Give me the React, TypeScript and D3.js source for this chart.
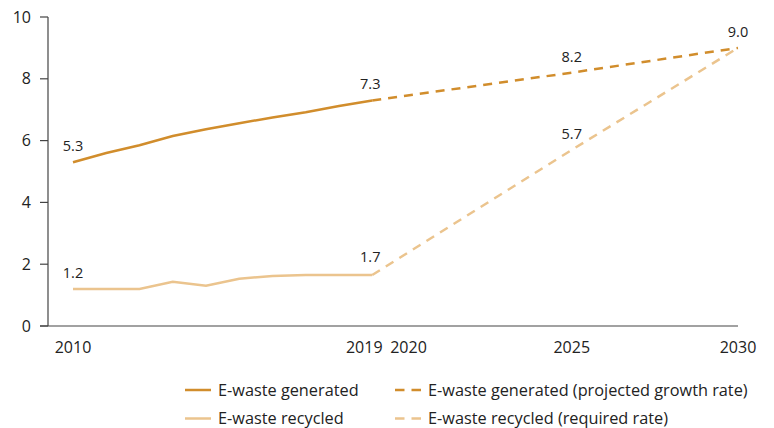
import React from "react";
import * as d3 from "d3";

const histYears = [2010, 2011, 2012, 2013, 2014, 2015, 2016, 2017, 2018, 2019];
const generated = [5.3, 5.6, 5.85, 6.15, 6.37, 6.56, 6.75, 6.92, 7.12, 7.3];
const recycled = [1.2, 1.2, 1.2, 1.43, 1.3, 1.53, 1.62, 1.65, 1.65, 1.65];
const projYears = [2019, 2025, 2030];
const generatedProj = [7.3, 8.2, 9.0];
const recycledProj = [1.65, 5.7, 9.0];
const yTicks = [0, 2, 4, 6, 8, 10];
const xTicks = [2010, 2019, 2020, 2025, 2030];
const labels = [
  { year: 2010, value: 5.3, text: "5.3" },
  { year: 2010, value: 1.2, text: "1.2" },
  { year: 2019, value: 7.3, text: "7.3" },
  { year: 2019, value: 1.7, text: "1.7" },
  { year: 2025, value: 8.2, text: "8.2" },
  { year: 2025, value: 5.7, text: "5.7" },
  { year: 2030, value: 9.0, text: "9.0" },
];
const legendItems = [
  { text: "E-waste generated", color: "#D18D2C", dashed: false },
  { text: "E-waste generated (projected growth rate)", color: "#D18D2C", dashed: true },
  { text: "E-waste recycled", color: "#EBC48E", dashed: false },
  { text: "E-waste recycled (required rate)", color: "#EBC48E", dashed: true },
];

const DARK = "#D18D2C";
const LIGHT = "#EBC48E";
const FONT = "'Open Sans', sans-serif";

export default function App() {
  const x = d3.scaleLinear().domain([2010, 2030]).range([73, 738]);
  const y = d3.scaleLinear().domain([0, 10]).range([326, 17]);
  const line = d3
    .line<[number, number]>()
    .x((d) => x(d[0]))
    .y((d) => y(d[1]));
  const zip = (xs: number[], vs: number[]) => xs.map((v, i) => [v, vs[i]] as [number, number]);
  const xLabelShift: Record<number, number> = { 2019: -8, 2020: 3 };

  return (
    <svg
      width={774}
      height={428}
      style={{ position: "absolute", left: 0, top: 0, background: "#fff" }}
      fontFamily={FONT}
    >
      {/* axes */}
      <line x1={48} x2={48} y1={y(10)} y2={y(0)} stroke="#444" strokeWidth={1.2} />
      <line x1={40} x2={738} y1={y(0)} y2={y(0)} stroke="#444" strokeWidth={1.2} />
      {yTicks.map((t) => (
        <g key={t}>
          <line x1={40} x2={48} y1={y(t)} y2={y(t)} stroke="#444" strokeWidth={1.2} />
          <text x={31} y={y(t)} dy="0.35em" textAnchor="end" fontSize={16} fill="#222">
            {t}
          </text>
        </g>
      ))}
      {xTicks.map((t) => (
        <text key={t} x={x(t) + (xLabelShift[t] || 0)} y={353} textAnchor="middle" fontSize={16} fill="#222">
          {t}
        </text>
      ))}

      {/* lines */}
      <path d={line(zip(projYears, recycledProj)) || ""} fill="none" stroke={LIGHT} strokeWidth={2.5} strokeDasharray="9,7" />
      <path d={line(zip(projYears, generatedProj)) || ""} fill="none" stroke={DARK} strokeWidth={2.5} strokeDasharray="9,7" />
      <path d={line(zip(histYears, recycled)) || ""} fill="none" stroke={LIGHT} strokeWidth={2.5} />
      <path d={line(zip(histYears, generated)) || ""} fill="none" stroke={DARK} strokeWidth={2.5} />

      {/* value labels */}
      {labels.map((l, i) => (
        <text
          key={i}
          x={x(l.year) - (l.year === 2019 ? 2 : 0)}
          y={y(l.value) - 11}
          textAnchor="middle"
          fontSize={14.5}
          fill="#222"
        >
          {l.text}
        </text>
      ))}

      {/* legend */}
      {legendItems.map((it, i) => {
        const col = i % 2;
        const row = Math.floor(i / 2);
        const lx = col === 0 ? 185 : 395;
        const ly = 390 + row * 28.5;
        return (
          <g key={i}>
            <line
              x1={lx}
              x2={lx + 26}
              y1={ly}
              y2={ly}
              stroke={it.color}
              strokeWidth={2.5}
              strokeDasharray={it.dashed ? "9.5,7" : undefined}
            />
            <text x={lx + 33} y={ly} dy="0.35em" fontSize={16.3} fill="#222">
              {it.text}
            </text>
          </g>
        );
      })}
    </svg>
  );
}
